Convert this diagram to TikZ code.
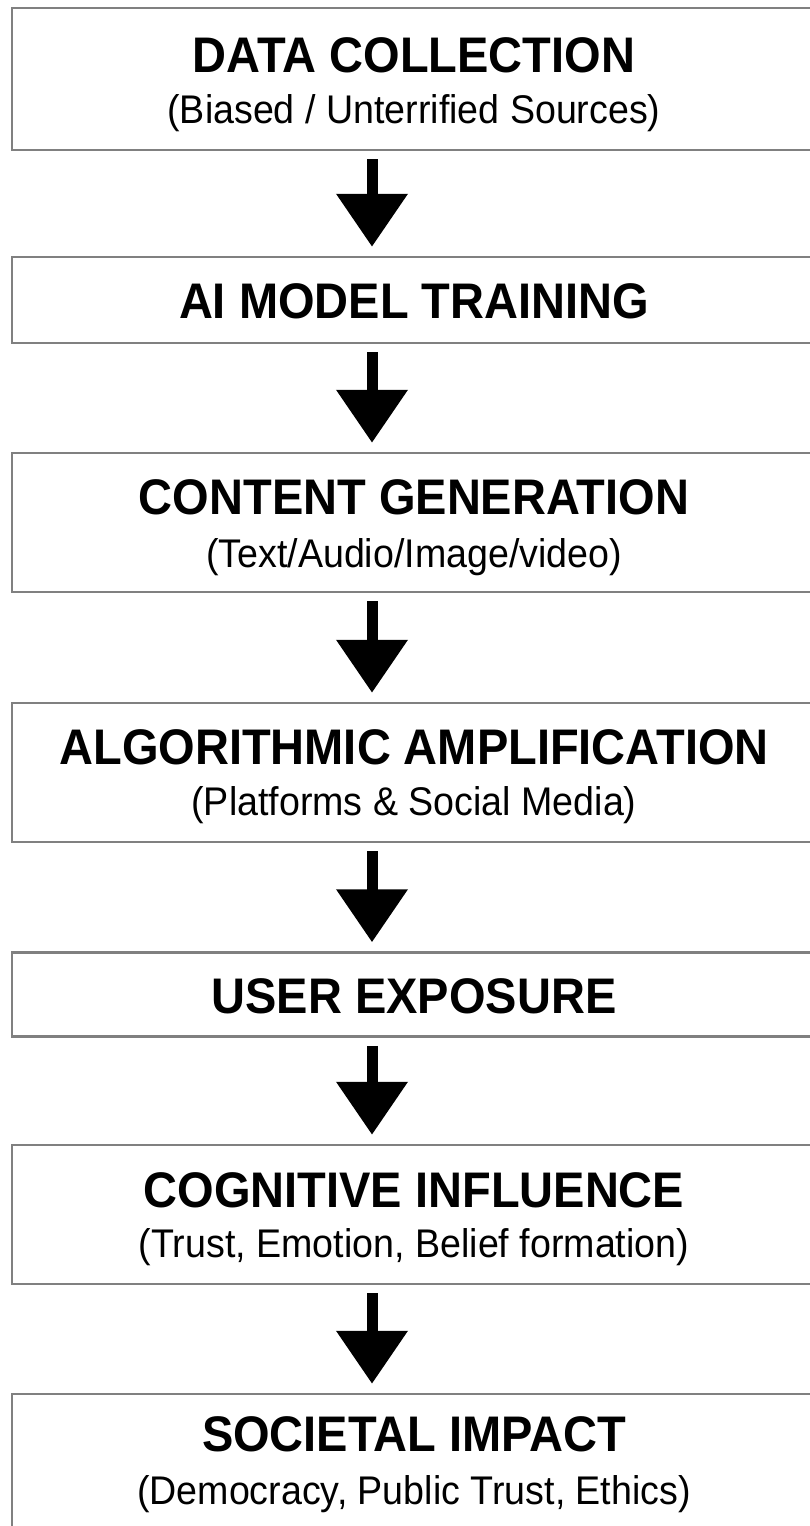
\documentclass[tikz,border=0pt]{standalone}
\usepackage{fontspec}
\setmainfont{Liberation Sans}
\newfontfamily\narrowfam[FakeStretch=0.94]{Liberation Sans}
\usetikzlibrary{arrows.meta}

\newcommand{\stagefont}{\narrowfam\fontsize{50}{55}\selectfont\bfseries}
\newcommand{\notefont}{\narrowfam\fontsize{40}{44}\selectfont}

\begin{document}
\begin{tikzpicture}[x=1pt, y=-1pt,
  stage/.style={draw=black!50, line width=2.5pt, minimum width=804pt, inner sep=0pt},
  head/.style={font=\stagefont, inner sep=0pt},
  note/.style={font=\notefont, inner sep=0pt},
  flow/.style={line width=11pt, -{Triangle[width=69pt,length=53pt]},
               shorten <=8pt, shorten >=9pt}]
  \useasboundingbox (0,0) rectangle (809,1526);

  % boxes (right edge runs off the page)
  \node[stage, minimum height=142pt] (collect)  at (414,79)     {};
  \node[stage, minimum height=86pt]  (train)    at (414,300)    {};
  \node[stage, minimum height=139pt] (generate) at (414,522.5)  {};
  \node[stage, minimum height=139pt] (amplify)  at (414,772.5)  {};
  \node[stage, minimum height=84pt]  (expose)   at (414,994.5)  {};
  \node[stage, minimum height=139pt] (cognit)   at (414,1214.5) {};
  \node[stage, minimum height=140pt] (society)  at (414,1464)   {};

  % labels
  \node[head] (collect-t)  at (414,55)   {DATA COLLECTION};
  \node[note] (collect-n)  at (414,113)  {(Biased / Unterrified Sources)};
  \node[head] (train-t)    at (414,301)  {AI MODEL TRAINING};
  \node[head] (generate-t) at (414,497)  {CONTENT GENERATION};
  \node[note] (generate-n) at (414,557)  {(Text/Audio/Image/video)};
  \node[head] (amplify-t)  at (414,747)  {ALGORITHMIC AMPLIFICATION};
  \node[note] (amplify-n)  at (414,805)  {(Platforms \& Social Media)};
  \node[head] (expose-t)   at (414,996)  {USER EXPOSURE};
  \node[head] (cognit-t)   at (414,1190) {COGNITIVE INFLUENCE};
  \node[note] (cognit-n)   at (414,1247) {(Trust, Emotion, Belief formation)};
  \node[head] (society-t)  at (414,1434) {SOCIETAL IMPACT};
  \node[note] (society-n)  at (414,1494) {(Democracy, Public Trust, Ethics)};

  % flow arrows
  \draw[flow] ([xshift=-42pt]collect.south)  -- ([xshift=-42pt]train.north);
  \draw[flow] ([xshift=-42pt]train.south)    -- ([xshift=-42pt]generate.north);
  \draw[flow] ([xshift=-42pt]generate.south) -- ([xshift=-42pt]amplify.north);
  \draw[flow] ([xshift=-42pt]amplify.south)  -- ([xshift=-42pt]expose.north);
  \draw[flow] ([xshift=-42pt]expose.south)   -- ([xshift=-42pt]cognit.north);
  \draw[flow] ([xshift=-42pt]cognit.south)   -- ([xshift=-42pt]society.north);
\end{tikzpicture}
\end{document}
